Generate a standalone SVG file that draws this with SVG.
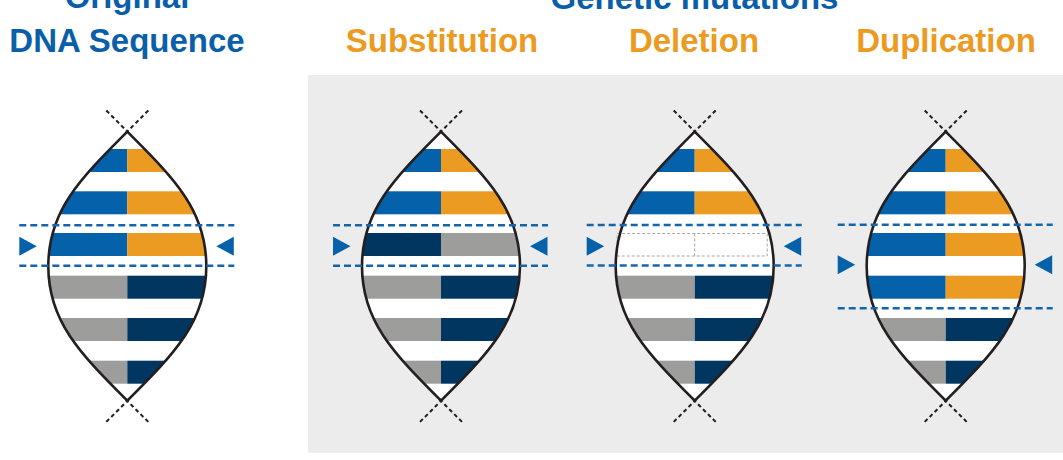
<svg xmlns="http://www.w3.org/2000/svg" xmlns:xlink="http://www.w3.org/1999/xlink" width="1063" height="460" viewBox="0 0 1063 460">
  <style>
    .title { font-family: "Liberation Sans", Arial, sans-serif; font-weight: bold; font-size: 33px; text-anchor: middle; }
    .blue-t { fill: #0b5fa8; }
    .orange-t { fill: #eb9b22; }
    .lens { fill: none; stroke: #231f20; stroke-width: 2.6; stroke-linejoin: miter; }
    .lens-bg { fill: #ffffff; }
    .tipx { stroke: #231f20; stroke-width: 2; stroke-dasharray: 4 3; fill: none; }
    .guide { stroke: #1565ad; stroke-width: 2.6; stroke-dasharray: 7 4; fill: none; }
    .ptr { fill: #0561a9; }
    .c-blue { fill: #0561a9; }
    .c-orange { fill: #eb9b22; }
    .c-grey { fill: #9d9d9c; }
    .c-navy { fill: #003660; }
    .gap { fill: #ffffff; stroke: #a6a6a6; stroke-width: 1; stroke-dasharray: 3 2; }
  </style>
  <defs>
    <!-- lens-shaped helix outline, centred on x = 0 -->
    <path id="lensPath" d="M0,131.7 C48,179.7 79,211 79,266.2 C79,321 48,352.7 0,400.7 C-48,352.7 -79,321 -79,266.2 C-79,211 -48,179.7 0,131.7 Z"/>
    <clipPath id="lensClip">
      <use xlink:href="#lensPath"/>
    </clipPath>
    <!-- dashed crossing strands at both tips -->
    <g id="tips">
      <path class="tipx" d="M-21,110.5 L3,134.5 M21,110.5 L-3,134.5"/>
      <path class="tipx" d="M-21,421.9 L3,397.9 M21,421.9 L-3,397.9"/>
    </g>
    <!-- base pair rows -->
    <g id="pairBO"><rect class="c-blue" x="-90" y="0" width="90" height="23"/><rect class="c-orange" x="0" y="0" width="90" height="23"/></g>
    <g id="pairGN"><rect class="c-grey" x="-90" y="0" width="90" height="23"/><rect class="c-navy" x="0" y="0" width="90" height="23"/></g>
    <g id="pairNG"><rect class="c-navy" x="-90" y="0" width="90" height="23"/><rect class="c-grey" x="0" y="0" width="90" height="23"/></g>
    <polygon id="ptrR" points="0,-9.5 17.5,0 0,9.5"/>
    <polygon id="ptrL" points="17.5,-9.5 0,0 17.5,9.5"/>
  </defs>

  <!-- headings -->
  <text class="title blue-t" x="127" y="8">Original</text>
  <text class="title blue-t" x="127" y="52.3">DNA Sequence</text>
  <text class="title blue-t" x="694.5" y="9">Genetic mutations</text>
  <text class="title orange-t" x="442" y="52.3">Substitution</text>
  <text class="title orange-t" x="694" y="52.3">Deletion</text>
  <text class="title orange-t" x="946" y="52.3">Duplication</text>

  <!-- mutations background panel -->
  <rect id="panel" x="308" y="75" width="755" height="377.7" fill="#ececec"/>

  <!-- original sequence -->
  <g id="original" transform="translate(127.3,0)">
    <use xlink:href="#lensPath" class="lens-bg"/>
    <g clip-path="url(#lensClip)">
      <use xlink:href="#pairBO" y="149"/>
      <use xlink:href="#pairBO" y="191.3"/>
      <use xlink:href="#pairBO" y="233"/>
      <use xlink:href="#pairGN" y="275.7"/>
      <use xlink:href="#pairGN" y="318"/>
      <use xlink:href="#pairGN" y="360.7"/>
    </g>
    <use xlink:href="#lensPath" class="lens"/>
    <use xlink:href="#tips"/>
    <path class="guide" d="M-108,225.3 H107 M-108,265.7 H107"/>
    <use xlink:href="#ptrR" class="ptr" x="-108" y="246.2"/>
    <use xlink:href="#ptrL" class="ptr" x="89" y="246.2"/>
  </g>

  <!-- substitution -->
  <g id="substitution" transform="translate(441,0)">
    <use xlink:href="#lensPath" class="lens-bg"/>
    <g clip-path="url(#lensClip)">
      <use xlink:href="#pairBO" y="149"/>
      <use xlink:href="#pairBO" y="191.3"/>
      <use xlink:href="#pairNG" y="233"/>
      <use xlink:href="#pairGN" y="275.7"/>
      <use xlink:href="#pairGN" y="318"/>
      <use xlink:href="#pairGN" y="360.7"/>
    </g>
    <use xlink:href="#lensPath" class="lens"/>
    <use xlink:href="#tips"/>
    <path class="guide" d="M-108,225.3 H107 M-108,265.7 H107"/>
    <use xlink:href="#ptrR" class="ptr" x="-108" y="246.2"/>
    <use xlink:href="#ptrL" class="ptr" x="89" y="246.2"/>
  </g>

  <!-- deletion -->
  <g id="deletion" transform="translate(694.7,0)">
    <use xlink:href="#lensPath" class="lens-bg"/>
    <g clip-path="url(#lensClip)">
      <use xlink:href="#pairBO" y="149"/>
      <use xlink:href="#pairBO" y="191.3"/>
      <use xlink:href="#pairGN" y="275.7"/>
      <use xlink:href="#pairGN" y="318"/>
      <use xlink:href="#pairGN" y="360.7"/>
    </g>
    <rect class="gap" x="-77.5" y="233.5" width="150" height="22.5"/>
    <line class="gap" x1="0" y1="233.5" x2="0" y2="256"/>
    <use xlink:href="#lensPath" class="lens"/>
    <use xlink:href="#tips"/>
    <path class="guide" d="M-108,225 H107 M-108,265.5 H107"/>
    <use xlink:href="#ptrR" class="ptr" x="-108" y="246.2"/>
    <use xlink:href="#ptrL" class="ptr" x="89" y="246.2"/>
  </g>

  <!-- duplication -->
  <g id="duplication" transform="translate(945.7,0)">
    <use xlink:href="#lensPath" class="lens-bg"/>
    <g clip-path="url(#lensClip)">
      <use xlink:href="#pairBO" y="149"/>
      <use xlink:href="#pairBO" y="191.3"/>
      <use xlink:href="#pairBO" y="233"/>
      <use xlink:href="#pairBO" y="275.7"/>
      <use xlink:href="#pairGN" y="318"/>
      <use xlink:href="#pairGN" y="360.7"/>
    </g>
    <use xlink:href="#lensPath" class="lens"/>
    <use xlink:href="#tips"/>
    <path class="guide" d="M-108,224.7 H107 M-108,308.3 H107"/>
    <use xlink:href="#ptrR" class="ptr" x="-108" y="264.7"/>
    <use xlink:href="#ptrL" class="ptr" x="89" y="264.7"/>
  </g>
</svg>
